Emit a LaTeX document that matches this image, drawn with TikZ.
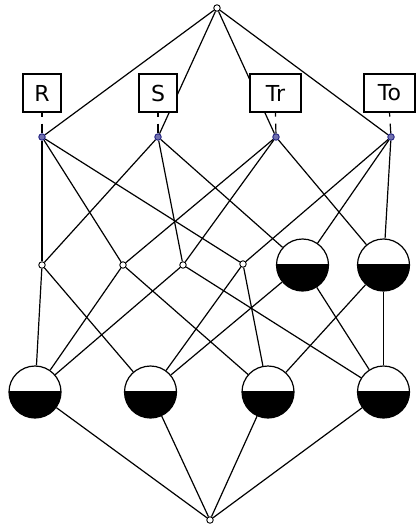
\documentclass[tikz,border=0pt]{standalone}
\usepackage{fontspec}
\newfontfamily\labelfont{DejaVu Sans}
\usetikzlibrary{backgrounds}
\definecolor{attrblue}{RGB}{35,35,130}
\begin{document}
\begin{tikzpicture}[x=1pt,y=-1pt,
  edge/.style={line width=1.2pt},
  dot/.style={circle, draw, line width=0.9pt, fill=white, minimum size=6.5pt, inner sep=0pt},
  attrdot/.style={circle, draw=attrblue, fill=attrblue!65, line width=0.9pt, minimum size=6.5pt, inner sep=0pt},
  objdot/.style={circle, draw, fill=white, line width=1.2pt, minimum size=52pt, inner sep=0pt,
    path picture={\fill[black] (path picture bounding box.west) rectangle (path picture bounding box.south east);
                  \draw[line width=1.2pt] (path picture bounding box.west) -- (path picture bounding box.east);}},
  labelbox/.style={draw, line width=1.2pt, fill=white, minimum height=38pt, inner sep=0pt,
    font=\labelfont\fontsize{22}{22}\selectfont},
  tick/.style={line width=1.2pt, dash pattern=on 4pt off 7pt on 20pt}
]
\useasboundingbox (0,0) rectangle (417,527);

% top and bottom of the lattice
\node[dot] (top) at (217,8) {};
\node[dot] (bot) at (210,520) {};

% attribute concepts
\node[attrdot] (R)  at (42,137)  {};
\node[attrdot] (S)  at (158,137) {};
\node[attrdot] (Tr) at (276,137) {};
\node[attrdot] (To) at (391,137) {};

% attribute labels
\node[labelbox, minimum width=38pt] (lR)  at (42,93)    {R};
\node[labelbox, minimum width=38pt] (lS)  at (158,93)   {S};
\node[labelbox, minimum width=51pt] (lTr) at (275.5,93) {Tr};
\node[labelbox, minimum width=51pt] (lTo) at (389.5,93) {To};

% concepts of two attributes
\node[dot] (RS)    at (42,265)  {};
\node[dot] (RTr)   at (123,265) {};
\node[dot] (STr)   at (183,265) {};
\node[dot] (RTo)   at (243,264) {};
\node[objdot] (STo)  at (302.5,265) {};
\node[objdot] (TrTo) at (383.5,265) {};

% concepts of three attributes
\node[objdot] (RSTr)  at (35,392)    {};
\node[objdot] (RSTo)  at (150.5,392) {};
\node[objdot] (RTrTo) at (268,392)   {};
\node[objdot] (STrTo) at (383.5,392) {};

\begin{pgfonlayer}{background}
  \foreach \a in {R,S,Tr,To} \draw[edge] (top) -- (\a);
  \draw[edge] (R) -- (RS);   \draw[edge] (R) -- (RTr);  \draw[edge] (R) -- (RTo);
  \draw[edge] (S) -- (RS);   \draw[edge] (S) -- (STr);  \draw[edge] (S) -- (STo);
  \draw[edge] (Tr) -- (RTr); \draw[edge] (Tr) -- (STr); \draw[edge] (Tr) -- (TrTo);
  \draw[edge] (To) -- (RTo); \draw[edge] (To) -- (STo); \draw[edge] (To) -- (TrTo);
  \draw[edge] (RS) -- (RSTr);   \draw[edge] (RTr) -- (RSTr);  \draw[edge] (STr) -- (RSTr);
  \draw[edge] (RS) -- (RSTo);   \draw[edge] (RTo) -- (RSTo);  \draw[edge] (STo) -- (RSTo);
  \draw[edge] (RTr) -- (RTrTo); \draw[edge] (RTo) -- (RTrTo); \draw[edge] (TrTo) -- (RTrTo);
  \draw[edge] (STr) -- (STrTo); \draw[edge] (STo) -- (STrTo); \draw[edge] (TrTo) -- (STrTo);
  \foreach \c in {RSTr,RSTo,RTrTo,STrTo} \draw[edge] (\c) -- (bot);
\end{pgfonlayer}

% label connectors
\draw[tick] (lR.south)  -- (R);
\draw[tick] (lS.south)  -- (S);
\draw[tick] (lTr.south) -- (Tr);
\draw[tick] (lTo.south) -- (To);
\end{tikzpicture}
\end{document}
